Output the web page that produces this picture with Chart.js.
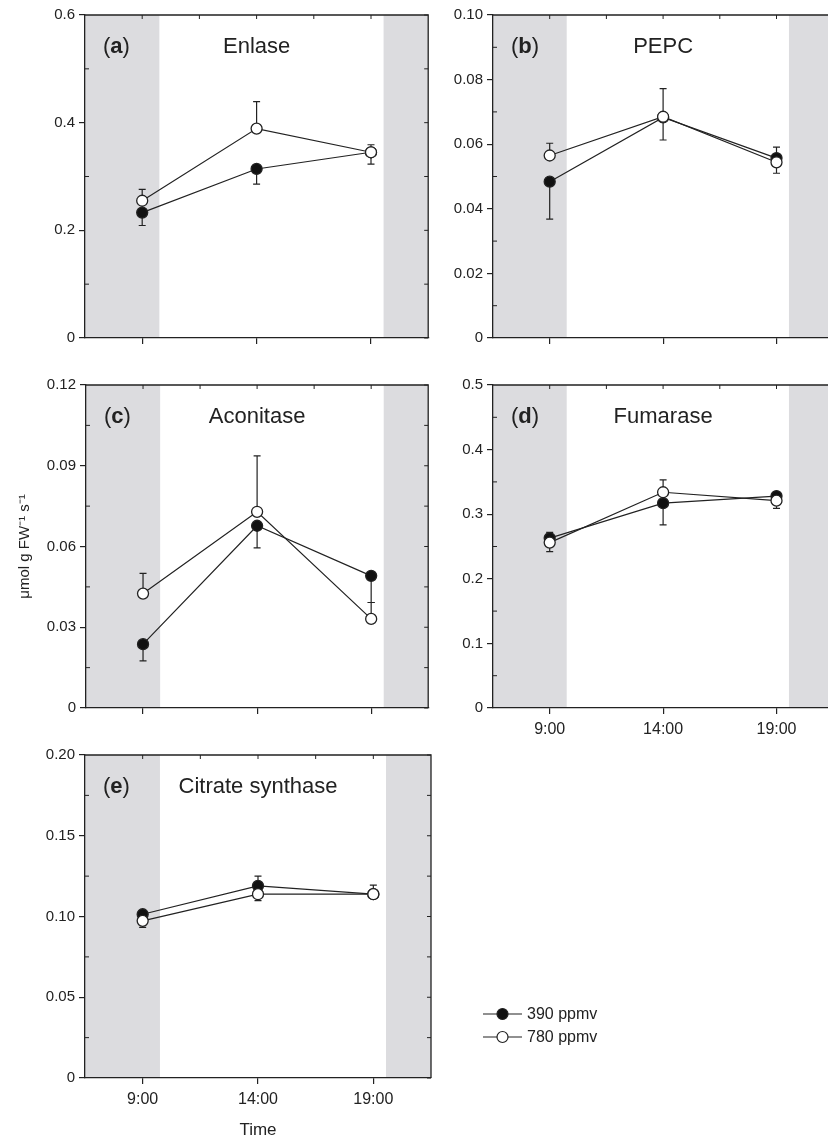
<!DOCTYPE html>
<html>
<head>
<meta charset="utf-8">
<script src="https://cdn.jsdelivr.net/npm/chart.js@4.4.1/dist/chart.umd.min.js"></script>
<style>
  html, body { margin: 0; padding: 0; background: #fff; width: 828px; height: 1137px; overflow: hidden; }
  canvas { position: absolute; }
</style>
</head>
<body>
<canvas id="panelA" width="405" height="360" style="left:30px;top:0px"></canvas>
<canvas id="panelB" width="400" height="360" style="left:440px;top:0px"></canvas>
<canvas id="panelC" width="435" height="360" style="left:0px;top:370px"></canvas>
<canvas id="panelD" width="400" height="370" style="left:440px;top:370px"></canvas>
<canvas id="panelE" width="620" height="397" style="left:30px;top:740px"></canvas>
<script>
const times = ['9:00', '14:00', '19:00'];
const seriesLabels = ['390 ppmv', '780 ppmv'];

// error bars: the sign tells which side is drawn (+ up, - down)
const enlase390 = [0.233, 0.314, 0.345];
const enlase780 = [0.255, 0.389, 0.345];
const enlase390Err = [-0.024, -0.028, -0.022];
const enlase780Err = [0.021, 0.050, 0.014];
const enlaseTicks = ['0', '0.2', '0.4', '0.6'];

const pepc390 = [0.0484, 0.0683, 0.0557];
const pepc780 = [0.0565, 0.0685, 0.0544];
const pepc390Err = [-0.0116, -0.0070, 0.0034];
const pepc780Err = [0.0038, 0.0087, -0.0034];
const pepcTicks = ['0', '0.02', '0.04', '0.06', '0.08', '0.10'];

const aconitase390 = [0.0237, 0.0677, 0.0491];
const aconitase780 = [0.0425, 0.0729, 0.0331];
const aconitase390Err = [-0.0062, -0.0082, -0.0099];
const aconitase780Err = [0.0075, 0.0208, 0.0061];
const aconitaseTicks = ['0', '0.03', '0.06', '0.09', '0.12'];

const fumarase390 = [0.263, 0.317, 0.328];
const fumarase780 = [0.256, 0.334, 0.321];
const fumarase390Err = [0.009, -0.0335, 0.004];
const fumarase780Err = [-0.014, 0.019, -0.012];
const fumaraseTicks = ['0', '0.1', '0.2', '0.3', '0.4', '0.5'];

const citrate390 = [0.1014, 0.119, 0.1138];
const citrate780 = [0.0973, 0.1138, 0.1138];
const citrate390Err = [0.002, 0.006, 0.0056];
const citrate780Err = [-0.004, -0.004, -0.002];
const citrateTicks = ['0', '0.05', '0.10', '0.15', '0.20'];

// dark periods, in category units (-0.5 .. 2.5)
const nightBands = [[-0.5, 0.15], [2.11, 2.5]];

const FONT = '"Liberation Sans", Arial, Helvetica, sans-serif';
const INK = '#222';
const NIGHT = '#dcdcdf';

const bandsAndFrame = {
  id: 'bandsAndFrame',
  beforeDraw(chart) {
    const {ctx, chartArea: a, scales: {x}} = chart;
    ctx.save();
    ctx.fillStyle = NIGHT;
    nightBands.forEach(([from, to]) => {
      const x0 = x.getPixelForValue(from);
      const x1 = x.getPixelForValue(to);
      ctx.fillRect(x0, a.top, x1 - x0, a.bottom - a.top);
    });
    ctx.restore();
  },
  afterDraw(chart) {
    const {ctx, chartArea: a, scales: {x, y}} = chart;
    ctx.save();
    ctx.strokeStyle = INK;
    ctx.lineWidth = 1.3;
    ctx.beginPath();
    ctx.moveTo(a.left, a.top); ctx.lineTo(a.right, a.top); ctx.lineTo(a.right, a.bottom);
    ctx.stroke();
    ctx.lineWidth = 1;
    ctx.beginPath();
    for (let v = 0; v <= 2; v += 0.5) {
      const px = x.getPixelForValue(v);
      ctx.moveTo(px, a.top); ctx.lineTo(px, a.top + 4);
    }
    const vals = y.ticks.map(t => t.value);
    for (let i = 0; i < vals.length; i++) {
      const py = y.getPixelForValue(vals[i]);
      ctx.moveTo(a.right, py); ctx.lineTo(a.right - 4, py);
      if (i < vals.length - 1) {
        const pm = y.getPixelForValue((vals[i] + vals[i + 1]) / 2);
        ctx.moveTo(a.right, pm); ctx.lineTo(a.right - 4, pm);
        ctx.moveTo(a.left, pm); ctx.lineTo(a.left + 4, pm);
      }
    }
    ctx.stroke();
    ctx.restore();
  }
};

const errorBars = {
  id: 'errorBars',
  beforeDatasetsDraw(chart) {
    const {ctx, scales: {y}} = chart;
    ctx.save();
    ctx.strokeStyle = INK;
    ctx.lineWidth = 1.2;
    chart.data.datasets.forEach((ds, i) => {
      const meta = chart.getDatasetMeta(i);
      ds.errors.forEach((err, j) => {
        const px = meta.data[j].x;
        const y0 = y.getPixelForValue(ds.data[j]);
        const y1 = y.getPixelForValue(ds.data[j] + err);
        ctx.beginPath();
        ctx.moveTo(px, y0); ctx.lineTo(px, y1);
        ctx.moveTo(px - 3.5, y1); ctx.lineTo(px + 3.5, y1);
        ctx.stroke();
      });
    });
    ctx.restore();
  }
};

const panelTitle = {
  id: 'panelTitle',
  afterDraw(chart, args, opts) {
    if (!opts.name) return;
    const {ctx, chartArea: a, scales: {x}} = chart;
    const cy = a.top + 32;
    ctx.save();
    ctx.fillStyle = INK;
    ctx.textBaseline = 'middle';
    let cx = a.left + 18;
    [['(', 'normal'], [opts.letter, 'bold'], [')', 'normal']].forEach(([t, w]) => {
      ctx.font = `${w} 22px ${FONT}`;
      ctx.fillText(t, cx, cy);
      cx += ctx.measureText(t).width;
    });
    ctx.font = `22px ${FONT}`;
    ctx.textAlign = 'center';
    ctx.fillText(opts.name, x.getPixelForValue(1), cy);
    ctx.restore();
  }
};

const lineLegend = {
  id: 'lineLegend',
  afterDraw(chart, args, opts) {
    if (!opts.at) return;
    const {ctx} = chart;
    ctx.save();
    chart.data.datasets.forEach((ds, i) => {
      const lx = opts.at.x, ly = opts.at.y + i * 23;
      ctx.strokeStyle = INK;
      ctx.lineWidth = 1.2;
      ctx.beginPath();
      ctx.moveTo(lx, ly); ctx.lineTo(lx + 39, ly);
      ctx.stroke();
      ctx.beginPath();
      ctx.arc(lx + 19.5, ly, 5.5, 0, Math.PI * 2);
      ctx.fillStyle = ds.pointBackgroundColor;
      ctx.fill();
      ctx.stroke();
      ctx.fillStyle = INK;
      ctx.font = `16px ${FONT}`;
      ctx.textBaseline = 'middle';
      ctx.fillText(ds.label, lx + 44, ly + 1);
    });
    ctx.restore();
  }
};

Chart.register(bandsAndFrame, errorBars, panelTitle, lineLegend);

function series(label, values, errors, fill, order) {
  return {
    label, data: values, errors, order,
    borderColor: INK, borderWidth: 1.2,
    pointRadius: 5.5, pointBorderWidth: 1.3,
    pointBackgroundColor: fill, pointBorderColor: INK,
  };
}

function makePanel(id, p) {
  const tickLabels = p.ticks;
  new Chart(document.getElementById(id), {
    type: 'line',
    data: {
      labels: times,
      datasets: [
        series(seriesLabels[0], p.v390, p.e390, '#111', 1),
        series(seriesLabels[1], p.v780, p.e780, '#fff', 0),
      ],
    },
    options: {
      responsive: false,
      animation: false,
      layout: {padding: {top: 15, right: p.padRight, left: 0, bottom: 0}},
      scales: {
        x: {
          type: 'category',
          offset: true,
          grid: {drawOnChartArea: false, drawTicks: true, tickLength: 6, color: INK, lineWidth: 1.2, offset: false},
          border: {display: true, color: INK, width: 1.3},
          ticks: {display: p.xLabels, color: INK, padding: 6, font: {family: FONT, size: 16}, maxRotation: 0},
          title: {display: !!p.xTitle, text: p.xTitle, color: INK, font: {family: FONT, size: 17}, padding: {top: 0, bottom: -4}},
          afterFit(scale) { scale.height = p.xHeight; },
        },
        y: {
          min: 0,
          max: parseFloat(tickLabels[tickLabels.length - 1]),
          afterBuildTicks(scale) { scale.ticks = tickLabels.map(t => ({value: parseFloat(t)})); },
          grid: {drawOnChartArea: false, drawTicks: true, tickLength: 6, color: INK, lineWidth: 1.2},
          border: {display: true, color: INK, width: 1.3},
          ticks: {color: INK, padding: 4, font: {family: FONT, size: 15}, callback: (v, i) => tickLabels[i]},
          title: {display: !!p.yTitle, text: p.yTitle, color: INK, font: {family: FONT, size: 15}, padding: {top: 16, bottom: 0}},
          afterFit(scale) { scale.width = p.yWidth; },
        },
      },
      plugins: {
        legend: {display: false},
        tooltip: {enabled: false},
        panelTitle: {letter: p.letter, name: p.name},
        lineLegend: {at: p.legendAt},
      },
    },
  });
}

makePanel('panelA', {letter: 'a', name: 'Enlase', v390: enlase390, v780: enlase780, e390: enlase390Err, e780: enlase780Err,
  ticks: enlaseTicks, yWidth: 55, padRight: 4, xHeight: 22, xLabels: false});
makePanel('panelB', {letter: 'b', name: 'PEPC', v390: pepc390, v780: pepc780, e390: pepc390Err, e780: pepc780Err,
  ticks: pepcTicks, yWidth: 53, padRight: 2, xHeight: 22, xLabels: false});
makePanel('panelC', {letter: 'c', name: 'Aconitase', v390: aconitase390, v780: aconitase780, e390: aconitase390Err, e780: aconitase780Err,
  ticks: aconitaseTicks, yWidth: 86, padRight: 4, xHeight: 22, xLabels: false, yTitle: 'μmol g FW⁻¹ s⁻¹'});
makePanel('panelD', {letter: 'd', name: 'Fumarase', v390: fumarase390, v780: fumarase780, e390: fumarase390Err, e780: fumarase780Err,
  ticks: fumaraseTicks, yWidth: 53, padRight: 2, xHeight: 32, xLabels: true});
makePanel('panelE', {letter: 'e', name: 'Citrate synthase', v390: citrate390, v780: citrate780, e390: citrate390Err, e780: citrate780Err,
  ticks: citrateTicks, yWidth: 55, padRight: 219, xHeight: 59, xLabels: true, xTitle: 'Time', legendAt: {x: 453, y: 274}});
</script>
</body>
</html>
